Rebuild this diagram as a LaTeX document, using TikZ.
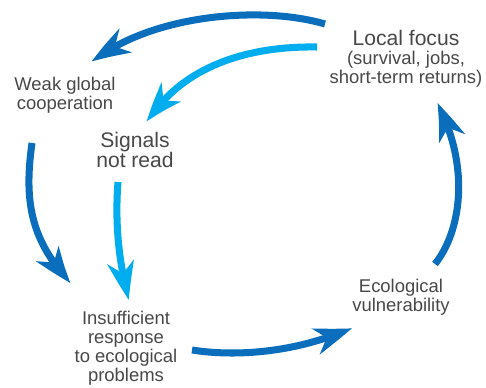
\documentclass[tikz,border=0pt]{standalone}
\usepackage{fontspec}
\setmainfont{Liberation Sans}
\usetikzlibrary{arrows.meta,bending}
\definecolor{darkblue}{HTML}{0A6EBD}
\definecolor{lightblue}{HTML}{00AEEF}
\definecolor{textgray}{HTML}{484848}
\tikzset{
	txt/.style={align=center,text=textgray,inner sep=0pt,font=\fontsize{10.5}{10.8}\selectfont},
	big/.style={font=\fontsize{12}{11.4}\selectfont},
	cyclearrow/.style={line width=4pt,-{Stealth[length=22pt,width=15pt,inset=6.5pt,bend]}},
}
\begin{document}
\begin{tikzpicture}[x=0.02cm,y=-0.02cm]
	\useasboundingbox (0,0) rectangle (486,388);
	\node[txt] (focus) at (406,59) {{\fontsize{12}{11.4}\selectfont Local focus}\\(survival, jobs,\\short-term returns)};
	\node[txt] (weak) at (65,95) {Weak global\\cooperation};
	\node[txt,big] (signals) at (135,150) {Signals\\not read};
	\node[txt] (response) at (126,348) {Insufficient\\response\\to ecological\\problems};
	\node[txt] (vuln) at (401,297) {Ecological\\vulnerability};
	\coordinate (focus-a) at (325,24);
	\coordinate (weak-in) at (92,62);
	\coordinate (focus-b) at (317,47);
	\coordinate (signals-in) at (147,122);
	\coordinate (weak-out) at (32,143);
	\coordinate (response-a) at (71,283);
	\coordinate (signals-out) at (118,182);
	\coordinate (response-b) at (129,300);
	\coordinate (response-out) at (192,350);
	\coordinate (vuln-in) at (352,328);
	\coordinate (vuln-out) at (435,264);
	\coordinate (focus-in) at (437,103);
	\draw[cyclearrow,darkblue] (focus-a) .. controls (260,5) and (150,15) .. (weak-in);
	\draw[cyclearrow,lightblue] (focus-b) .. controls (255,46) and (185,62) .. (signals-in);
	\draw[cyclearrow,darkblue] (weak-out) .. controls (24,200) and (30,240) .. (response-a);
	\draw[cyclearrow,lightblue] (signals-out) .. controls (115,220) and (118,260) .. (response-b);
	\draw[cyclearrow,darkblue] (response-out) .. controls (230,356) and (290,355) .. (vuln-in);
	\draw[cyclearrow,darkblue] (vuln-out) .. controls (462,230) and (470,165) .. (focus-in);
\end{tikzpicture}
\end{document}
